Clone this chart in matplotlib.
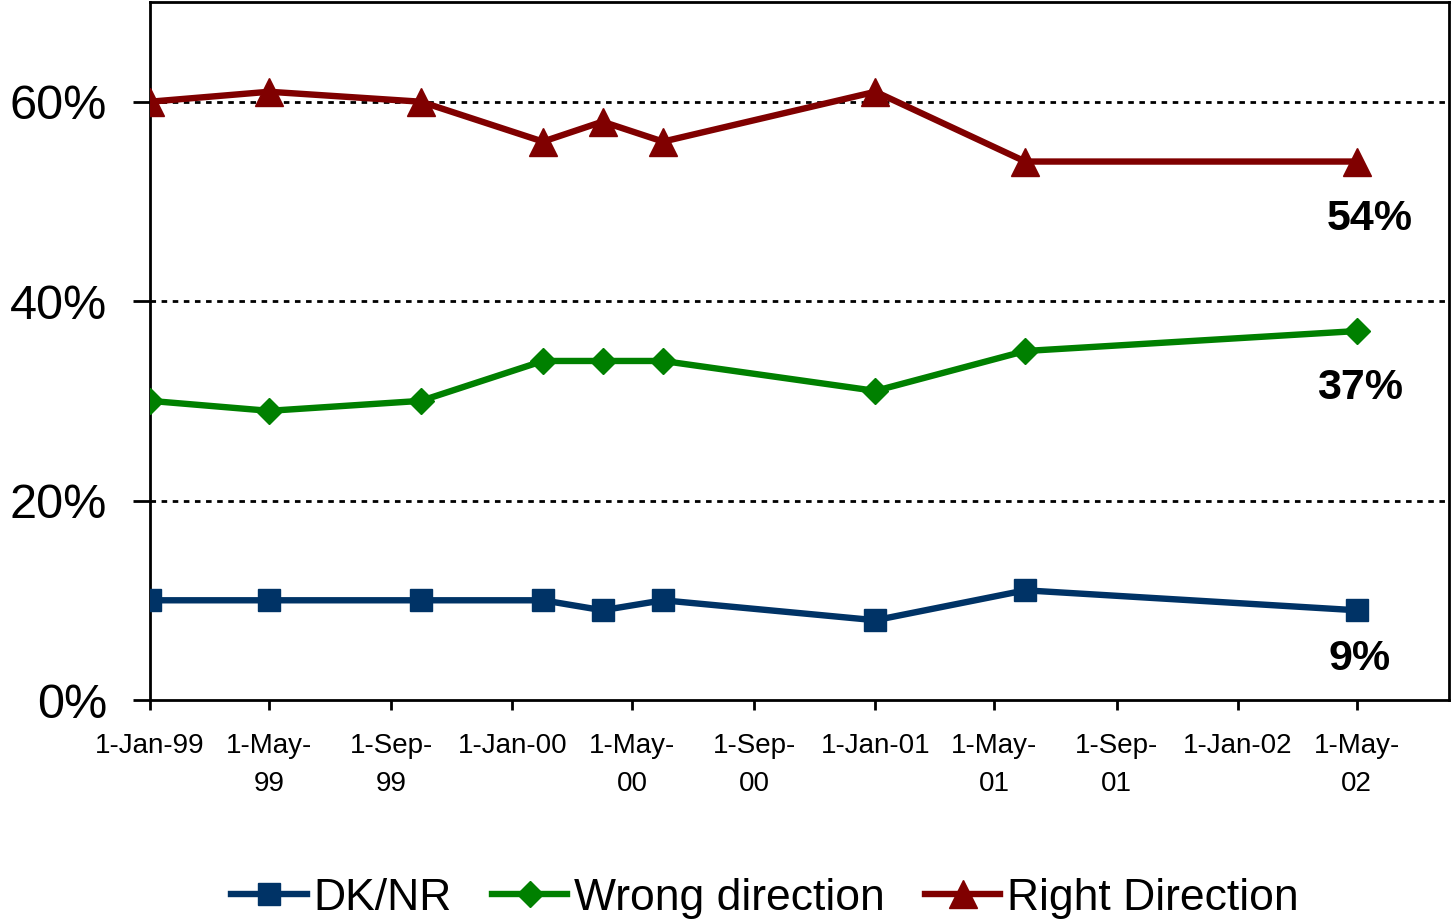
import datetime as dt

import matplotlib
matplotlib.use("Agg")
import matplotlib.pyplot as plt

plt.rcParams["font.family"] = ["Liberation Sans", "DejaVu Sans"]

# ---------------------------------------------------
# Data
# ---------------------------------------------------
survey_dates = ["1999-01-01", "1999-05-01", "1999-10-01", "2000-02-01", "2000-04-01",
                "2000-06-01", "2001-01-01", "2001-06-01", "2002-05-01"]
dk_nr = [10, 10, 10, 10, 9, 10, 8, 11, 9]
wrong_direction = [30, 29, 30, 34, 34, 34, 31, 35, 37]
right_direction = [60, 61, 60, 56, 58, 56, 61, 54, 54]

tick_dates = ["1999-01-01", "1999-05-01", "1999-09-01", "2000-01-01", "2000-05-01",
              "2000-09-01", "2001-01-01", "2001-05-01", "2001-09-01", "2002-01-01",
              "2002-05-01"]
tick_labels = ["1-Jan-99", "1-May-\n99", "1-Sep-\n99", "1-Jan-00", "1-May-\n00",
               "1-Sep-\n00", "1-Jan-01", "1-May-\n01", "1-Sep-\n01", "1-Jan-02",
               "1-May-\n02"]

BLUE = "#003366"
GREEN = "#008000"
RED = "#800000"

x = [dt.datetime.strptime(d, "%Y-%m-%d") for d in survey_dates]
xt = [dt.datetime.strptime(d, "%Y-%m-%d") for d in tick_dates]

fig = plt.figure(figsize=(14.51, 9.21), dpi=100)
ax = fig.add_axes([150 / 1451, 1 - 700 / 921, 1299 / 1451, 698 / 921])

lw = 4.6
ax.plot(x, dk_nr, color=BLUE, lw=lw, marker="s", ms=16, label="DK/NR", zorder=3)
ax.plot(x, wrong_direction, color=GREEN, lw=lw, marker="D", ms=13, label="Wrong direction", zorder=3)
ax.plot(x, right_direction, color=RED, lw=lw, marker="^", ms=20, label="Right Direction", zorder=3)

# end labels
for series, dx, dy in [(right_direction, 13, -57), (wrong_direction, 3, -57), (dk_nr, 3, -49)]:
    ax.annotate(f"{series[-1]}%", (x[-1], series[-1]), xytext=(dx, dy),
                textcoords="offset pixels", ha="center", va="center",
                fontsize=31, fontweight="bold", color="black")

ax.set_xlim(dt.datetime(1999, 1, 1), dt.datetime(2002, 8, 2))
ax.set_ylim(0, 70)
ax.set_yticks([0, 20, 40, 60])
ax.set_yticklabels(["0%", "20%", "40%", "60%"], fontsize=35)
ax.set_xticks(xt)
ax.set_xticklabels(tick_labels, fontsize=20, linespacing=1.6, va="top")

for yv in [20, 40, 60]:
    ax.axhline(yv, color="black", lw=2, ls=(0, (2, 2)), zorder=1)

for s in ax.spines.values():
    s.set_linewidth(2)
ax.tick_params(axis="y", length=12, width=2, pad=19)
ax.tick_params(axis="x", length=7, width=2, pad=17)

ax.legend(loc="center", bbox_to_anchor=(765 / 1451, 1 - 898 / 921),
          bbox_transform=fig.transFigure, ncol=3, frameon=False, fontsize=32,
          handlelength=1.7, handletextpad=0.15, columnspacing=0.9)

fig.savefig("out.png", dpi=100)
